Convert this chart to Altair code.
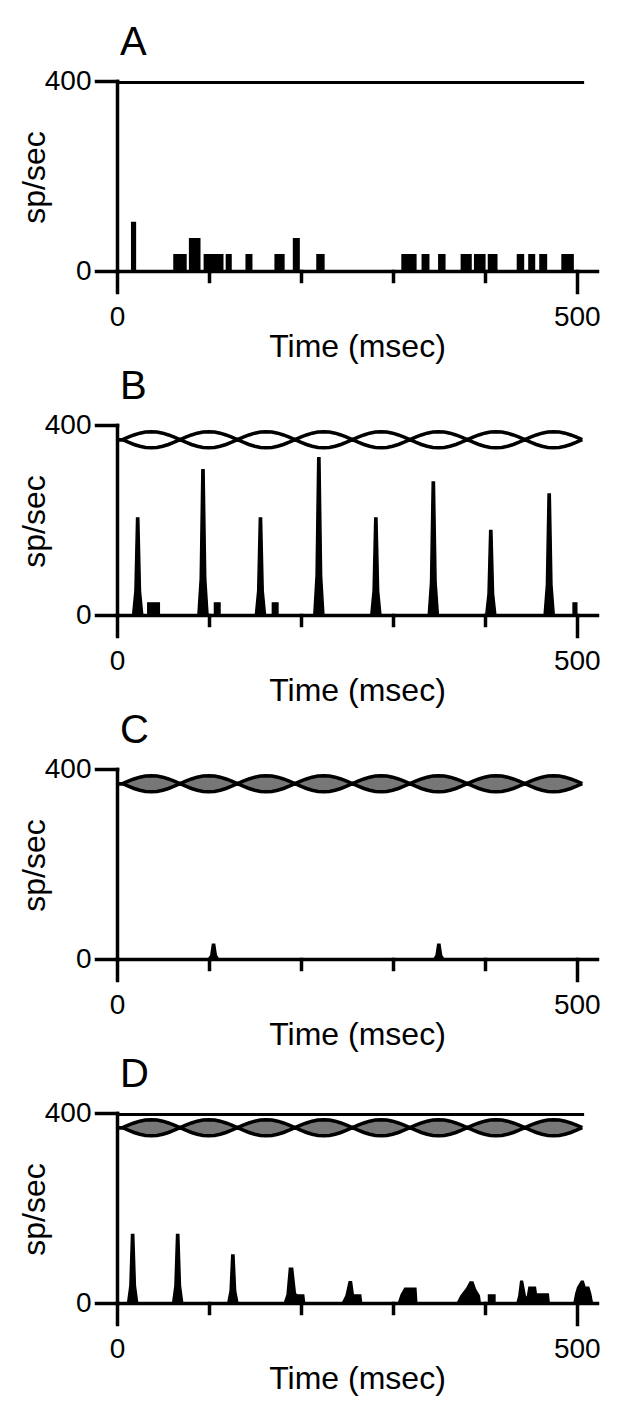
import altair as alt
import pandas as pd

FONT = "Liberation Sans"
W, H = 480, 190
X_DOMAIN = [0, 522]
Y_DOMAIN = [0, 400]
X_TICKS = [0, 100, 200, 300, 400, 500]
Y_TICKS = [0, 400]
PANEL_LABELS = ["A", "B", "C", "D"]
X_TITLE = "Time (msec)"
Y_TITLE = "sp/sec"

# ---- stimulus traces ----
FLAT_T = [0, 508]
FLAT_V = [397, 397]
STIM_CENTER = 369
STIM_HALF = 17
LOBE_STARTS = [6, 68.5, 131, 193.5, 256, 318.5, 381, 443.5]
LOBE_LEN = 62.5
LOBE_POS = [0, 0.1, 0.2, 0.3, 0.4, 0.5, 0.6, 0.7, 0.8, 0.9, 1.0]
LOBE_AMP = [0, 0.31, 0.59, 0.81, 0.95, 1.0, 0.95, 0.81, 0.59, 0.31, 0]

# ---- panel A histogram bins ----
A_START = [16, 62, 66.5, 71, 79, 95, 100, 105, 110, 119, 140.5, 172, 177, 192,
           217.5, 310, 318, 332, 350, 374.5, 380, 389, 394.5, 404, 435.5, 448,
           460, 484, 490]
A_END = [20, 66, 70.5, 75, 90, 99.5, 104.5, 109.5, 115, 124, 146.5, 176.5, 181.5,
         198, 225, 317, 325, 339, 356.5, 379.5, 385, 394, 400, 413, 442, 454,
         467, 489.5, 496]
A_HEIGHT = [102, 34, 34, 34, 68, 34, 34, 34, 34, 34, 34, 34, 34, 68, 34, 34, 34,
            34, 34, 34, 34, 34, 34, 34, 34, 34, 34, 34, 34]

# ---- peak outline (offset in ms, fraction of peak height) ----
PEAK_DT = [-5.5, -3, -1.2, 1.2, 3, 5.5]
PEAK_FR = [0, 0.25, 1, 1, 0.25, 0]

# ---- panel B ----
B_PEAK_T = [22.5, 93.5, 156, 219.5, 281.5, 344, 406.5, 470]
B_PEAK_H = [204, 306, 204, 331, 204, 280, 178, 255]
B_BIN_START = [33.5, 106, 169, 496]
B_BIN_END = [46, 112, 175, 500]
B_BIN_H = [25.5, 25.5, 25.5, 25.5]

# ---- panel C ----
C_PEAK_T = [105, 350]
C_PEAK_H = [31, 31]

# ---- panel D ----
D_PEAK_T = [17, 66, 126]
D_PEAK_H = [144, 144, 101]
D_BUMP_T = [[182, 185, 187.5, 191, 194, 196, 203, 204],
            [245, 249, 252.5, 255, 257, 265, 266],
            [306, 309, 313, 325, 326],
            [370, 374, 380, 384, 387, 390, 394, 395],
            [435, 437, 439, 441, 444, 446, 448, 455, 456, 469, 470],
            [497, 499, 501, 505, 507, 509, 513, 515, 517]]
D_BUMP_V = [[0, 18, 73, 73, 20, 17, 17, 0],
            [0, 15, 45, 45, 17, 17, 0],
            [0, 17, 31, 31, 0],
            [0, 15, 30, 44, 44, 28, 15, 0],
            [0, 15, 46, 46, 15, 10, 33, 33, 19, 19, 0],
            [0, 20, 33, 46, 46, 33, 33, 20, 0]]
D_BIN_START = [404]
D_BIN_END = [411]
D_BIN_H = [17]

GREY = "#777777"

# ---------- tables ----------
env_t = [0.0, LOBE_STARTS[0]]
env_f = [0.0, 0.0]
for s in LOBE_STARTS:
    for p, a in zip(LOBE_POS[1:], LOBE_AMP[1:]):
        env_t.append(s + p * LOBE_LEN)
        env_f.append(a)
env_df = pd.DataFrame({
    "t": env_t,
    "upper": [STIM_CENTER + STIM_HALF * f for f in env_f],
    "lower": [STIM_CENTER - STIM_HALF * f for f in env_f],
})
flat_df = pd.DataFrame({"t": FLAT_T, "v": FLAT_V})


def bins_df(starts, ends, heights):
    return pd.DataFrame({"s": starts, "e": ends, "h": heights, "z": [0] * len(starts)})


def peaks_df(peak_t, peak_h, extra_t=(), extra_v=()):
    rows = []
    k = 0
    for p, h in zip(peak_t, peak_h):
        for dt, fr in zip(PEAK_DT, PEAK_FR):
            rows.append({"t": p + dt, "v": h * fr, "g": k})
        k += 1
    for ts, vs in zip(extra_t, extra_v):
        for t, v in zip(ts, vs):
            rows.append({"t": t, "v": v, "g": k})
        k += 1
    return pd.DataFrame(rows)


sel = "datum.value === 0 || datum.value === 500"
x_axis = alt.Axis(
    values=X_TICKS, title=X_TITLE, grid=False,
    labelExpr=f"({sel}) ? datum.label : ''",
    tickSize={"condition": {"test": sel, "value": 21}, "value": 10},
    labelFlush=False, labelOverlap=False,
    labelBaseline="alphabetic", labelPadding=33,
    titleBaseline="alphabetic", titleY=85,
)
y_axis = alt.Axis(
    values=Y_TICKS, title=Y_TITLE, grid=False, tickSize=21,
    labelPadding=5, labelBaseline="middle",
    titleX=-73, titleY=96, titleAlign="center", titleBaseline="alphabetic",
    titleAngle=270,
)


def X(field="t"):
    return alt.X(f"{field}:Q", scale=alt.Scale(domain=X_DOMAIN, nice=False, zero=False), axis=x_axis)


def Y(field="v"):
    return alt.Y(f"{field}:Q", scale=alt.Scale(domain=Y_DOMAIN, nice=False), axis=y_axis, stack=None)


def stim_layers(kind):
    layers = []
    if kind in ("flat", "both"):
        layers.append(alt.Chart(flat_df).mark_line(color="black", strokeWidth=3).encode(x=X(), y=Y()))
    if kind in ("open", "filled", "both"):
        if kind in ("filled", "both"):
            layers.append(alt.Chart(env_df).mark_area(color=GREY, opacity=1).encode(
                x=X(), y=Y("upper"), y2="lower"))
        layers.append(alt.Chart(env_df).mark_line(color="black", strokeWidth=3.5).encode(x=X(), y=Y("upper")))
        layers.append(alt.Chart(env_df).mark_line(color="black", strokeWidth=3.5).encode(x=X(), y=Y("lower")))
    return layers


def rect_layer(df):
    return alt.Chart(df).mark_rect(color="black", stroke="black", strokeWidth=1.5).encode(
        x=X("s"), x2="e", y=Y("h"), y2="z")


def area_layer(df):
    return alt.Chart(df).mark_area(color="black", stroke="black", strokeWidth=1.5,
                                   interpolate="linear").encode(x=X(), y=Y(), detail="g:N")


def label_layer(label):
    return alt.Chart(pd.DataFrame({"label": [label]})).mark_text(
        font=FONT, fontSize=40, color="black", align="left", baseline="alphabetic"
    ).encode(text="label:N", x=alt.value(3), y=alt.value(-26))


def panel(label, layers):
    return alt.layer(*(layers + [label_layer(label)])).properties(width=W, height=H)


pA = panel("A", stim_layers("flat") + [rect_layer(bins_df(A_START, A_END, A_HEIGHT))])
pB = panel("B", stim_layers("open") + [rect_layer(bins_df(B_BIN_START, B_BIN_END, B_BIN_H)),
                                       area_layer(peaks_df(B_PEAK_T, B_PEAK_H))])
pC = panel("C", stim_layers("filled") + [area_layer(peaks_df(C_PEAK_T, C_PEAK_H))])
pD = panel("D", stim_layers("both") + [rect_layer(bins_df(D_BIN_START, D_BIN_END, D_BIN_H)),
                                       area_layer(peaks_df(D_PEAK_T, D_PEAK_H, D_BUMP_T, D_BUMP_V))])

chart = alt.vconcat(pA, pB, pC, pD, spacing=154, bounds="flush").properties(
    padding={"left": 10, "top": 15, "right": 5, "bottom": 5}
).configure(font=FONT).configure_view(stroke=None).configure_axis(
    domainColor="black", domainWidth=3.5, tickColor="black", tickWidth=3.5,
    domainCap="square", tickCap="square",
    labelFont=FONT, labelFontSize=28, labelColor="black",
    titleFont=FONT, titleFontSize=32, titleFontWeight="normal", titleColor="black",
)

chart.save("out.html", embed_options={"renderer": "svg", "actions": False})
